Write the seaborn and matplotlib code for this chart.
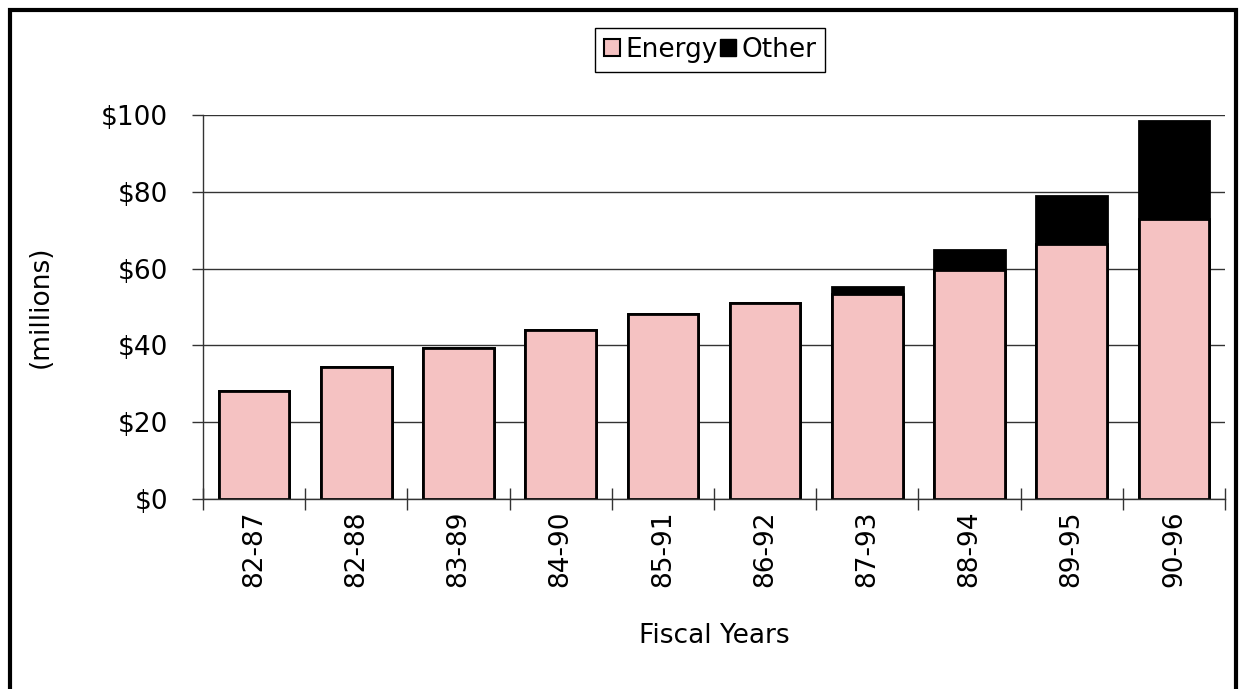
import matplotlib
matplotlib.use("Agg")

import matplotlib.pyplot as plt
from matplotlib.patches import Patch, Rectangle
from matplotlib.ticker import FixedLocator
import pandas as pd
import seaborn as sns

# Данные графика
years = ["82-87", "82-88", "83-89", "84-90", "85-91", "86-92", "87-93", "88-94", "89-95", "90-96"]
energy = [28.0, 34.3, 39.2, 43.9, 48.2, 51.0, 53.4, 59.6, 66.5, 72.8]
other = [0.0, 0.0, 0.0, 0.0, 0.0, 0.0, 1.8, 5.3, 12.4, 25.6]
y_ticks = [0, 20, 40, 60, 80, 100]

pink = "#F5C2C2"
FS = 19

df = pd.DataFrame({"Year": years, "Energy": energy, "Other": other})
df["Total"] = df["Energy"] + df["Other"]

sns.set_style("white")
plt.rcParams["font.family"] = ["DejaVu Sans"]
plt.rcParams.update({"text.color": "black", "axes.labelcolor": "black",
                     "xtick.color": "black", "ytick.color": "black"})

fig = plt.figure(figsize=(12.46, 6.89), dpi=100)
ax = fig.add_axes([203 / 1246, 1 - 499 / 689, (1225 - 203) / 1246, (499 - 115) / 689])

# Общая высота (черная), поверх неё Energy (розовая)
sns.barplot(data=df, x="Year", y="Total", color="black", width=0.69,
            edgecolor="black", linewidth=2, saturation=1, ax=ax)
sns.barplot(data=df, x="Year", y="Energy", color=pink, width=0.69,
            edgecolor="black", linewidth=2, saturation=1, ax=ax)

ax.set_xlim(-0.5, len(years) - 0.5)
ax.set_ylim(0, 100)
ax.set_yticks(y_ticks)
ax.set_yticklabels([f"${v}" for v in y_ticks], fontsize=FS)
ax.set_xticks(range(len(years)))
ax.set_xticklabels(years, rotation=90, fontsize=FS)
ax.xaxis.set_minor_locator(FixedLocator([i - 0.5 for i in range(len(years) + 1)]))
ax.tick_params(axis="x", which="major", bottom=True, length=0, pad=8)
ax.tick_params(axis="x", which="minor", bottom=True, length=16, direction="inout",
               width=1, color="#333333")
ax.tick_params(axis="y", which="major", left=True, length=8, direction="out",
               width=1, color="#333333", pad=17)

ax.yaxis.grid(True, color="#333333", linewidth=1)
ax.set_axisbelow(True)
for s in ["top", "right"]:
    ax.spines[s].set_visible(False)
for s in ["left", "bottom"]:
    ax.spines[s].set_color("#333333")
    ax.spines[s].set_linewidth(1)

ax.set_xlabel("Fiscal Years", fontsize=FS, labelpad=26)
ax.set_ylabel("(millions)", fontsize=FS, labelpad=34)

handles = [Patch(facecolor=pink, edgecolor="black", linewidth=1.5, label="Energy"),
           Patch(facecolor="black", edgecolor="black", label="Other")]
fig.legend(handles=handles, loc="center", bbox_to_anchor=(710 / 1246, 1 - 50 / 689),
           ncol=2, fontsize=FS, handlelength=0.6, handleheight=0.6, handletextpad=0.2,
           columnspacing=0.1, fancybox=False, edgecolor="black", framealpha=1,
           borderpad=0.35, borderaxespad=0)

# Рамка вокруг всего рисунка
fig.patches.append(Rectangle((10 / 1246, -0.1), (1236 - 10) / 1246, 1.1 - 10 / 689,
                             transform=fig.transFigure, fill=False, edgecolor="black",
                             linewidth=3, clip_on=False))

fig.savefig("out.png", dpi=100)
plt.close(fig)
